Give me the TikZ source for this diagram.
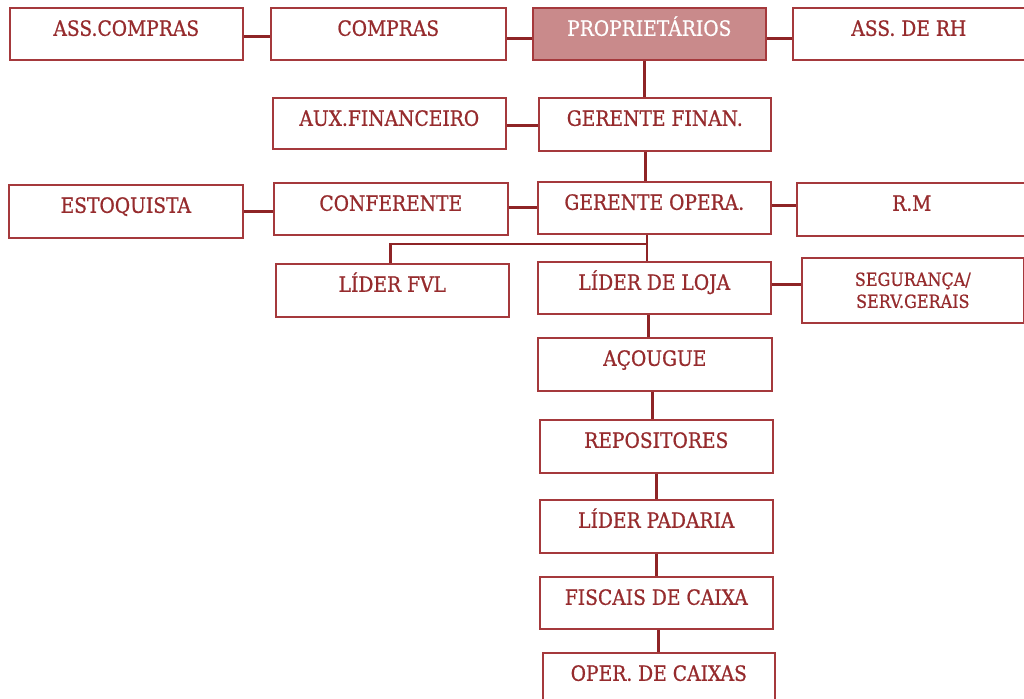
\documentclass[tikz,border=0pt]{standalone}
\usepackage{fontspec}
\setmainfont{DejaVu Serif}[FakeStretch=0.89,FakeBold=0.8]
\usetikzlibrary{calc}
\definecolor{bordc}{HTML}{A5393C}
\definecolor{txtc}{HTML}{962B2D}
\definecolor{linec}{HTML}{8E2426}
\definecolor{propfill}{HTML}{C98A8B}
\tikzset{
  orgbox/.style={draw=bordc, line width=1.6pt, fill=white, anchor=north west,
    inner xsep=0pt, inner ysep=0pt, text height=28pt, text=txtc,
    font=\fontsize{21}{24}\selectfont},
  conn/.style={draw=linec, line width=2.8pt},
}
\begin{document}
\begin{tikzpicture}[x=1pt,y=-1pt]
\useasboundingbox (0,0) rectangle (1024,698);
% row 1
\node[orgbox, minimum width=233pt, text depth=24pt] (asscompras) at (9,7) {ASS.COMPRAS};
\node[orgbox, minimum width=235pt, text depth=24pt] (compras) at (270,7) {COMPRAS};
\node[orgbox, minimum width=233pt, text depth=24pt, fill=propfill, text=white] (prop) at (532,7) {PROPRIETÁRIOS};
\node[orgbox, minimum width=232pt, text depth=24pt] (assrh) at (792,7) {ASS. DE RH};
% row 2
\node[orgbox, minimum width=233pt, text depth=23pt] (aux) at (272,97) {AUX.FINANCEIRO};
\node[orgbox, minimum width=232pt, text depth=25pt] (gf) at (538,97) {GERENTE FINAN.};
% row 3
\node[orgbox, minimum width=234pt, text depth=25pt] (estoq) at (8,184) {ESTOQUISTA};
\node[orgbox, minimum width=234pt, text depth=24pt] (conf) at (273,182) {CONFERENTE};
\node[orgbox, minimum width=233pt, text depth=24pt] (go) at (537,181) {GERENTE OPERA.};
\node[orgbox, minimum width=230pt, text depth=25pt] (rm) at (796,182) {R.M};
% row 4
\node[orgbox, minimum width=233pt, text depth=25pt] (fvl) at (275,263) {LÍDER FVL};
\node[orgbox, minimum width=233pt, text depth=24pt] (ldl) at (537,261) {LÍDER DE LOJA};
\node[draw=bordc, line width=1.6pt, fill=white, anchor=north west, inner sep=0pt,
  minimum width=222pt, minimum height=65pt, text=txtc, align=center,
  font=\fontsize{18}{23}\selectfont] (seg) at (801,257) {SEGURANÇA/\\[-1pt]SERV.GERAIS};
% column
\node[orgbox, minimum width=234pt, text depth=25pt] (acou) at (537,337) {AÇOUGUE};
\node[orgbox, minimum width=233pt, text depth=25pt] (rep) at (539,419) {REPOSITORES};
\node[orgbox, minimum width=233pt, text depth=25pt] (lp) at (539,499) {LÍDER PADARIA};
\node[orgbox, minimum width=233pt, text depth=24pt] (fc) at (539,576) {FISCAIS DE CAIXA};
\node[orgbox, minimum width=232pt, text depth=29pt] (oper) at (542,652) {OPER. DE CAIXAS};
% connectors
\draw[conn] ([yshift=-3pt]asscompras.east) -- ([yshift=-3pt]asscompras.east -| compras.west);
\draw[conn] ([yshift=-5pt]compras.east) -- ([yshift=-5pt]compras.east -| prop.west);
\draw[conn] ([yshift=-5pt]prop.east) -- ([yshift=-5pt]prop.east -| assrh.west);
\draw[conn] ([xshift=-5pt]prop.south) -- ([xshift=-5pt]prop.south |- gf.north);
\draw[conn] ([yshift=-2pt]aux.east) -- ([yshift=-2pt]aux.east -| gf.west);
\draw[conn] ([xshift=-9pt]gf.south) -- ([xshift=-9pt]gf.south |- go.north);
\draw[conn] (estoq.east) -- (estoq.east -| conf.west);
\draw[conn] ([yshift=1pt]conf.east) -- ([yshift=1pt]conf.east -| go.west);
\draw[conn] ([yshift=2pt]go.east) -- ([yshift=2pt]go.east -| rm.west);
\coordinate (jn) at (647,244);
\draw[conn] (go.south -| jn) -- (ldl.north -| jn);
\draw[conn] (jn) -| ([xshift=-1.5pt]fvl.north);
\draw[conn] ([yshift=3pt]ldl.east) -- ([yshift=3pt]ldl.east -| seg.west);
\draw[conn] ([xshift=-6pt]ldl.south) -- ([xshift=-6pt]ldl.south |- acou.north);
\draw[conn] ([xshift=-2pt]acou.south) -- ([xshift=-2pt]acou.south |- rep.north);
\draw[conn] (rep.south) -- (rep.south |- lp.north);
\draw[conn] (lp.south) -- (lp.south |- fc.north);
\draw[conn] ([xshift=2pt]fc.south) -- ([xshift=2pt]fc.south |- oper.north);
\end{tikzpicture}
\end{document}
